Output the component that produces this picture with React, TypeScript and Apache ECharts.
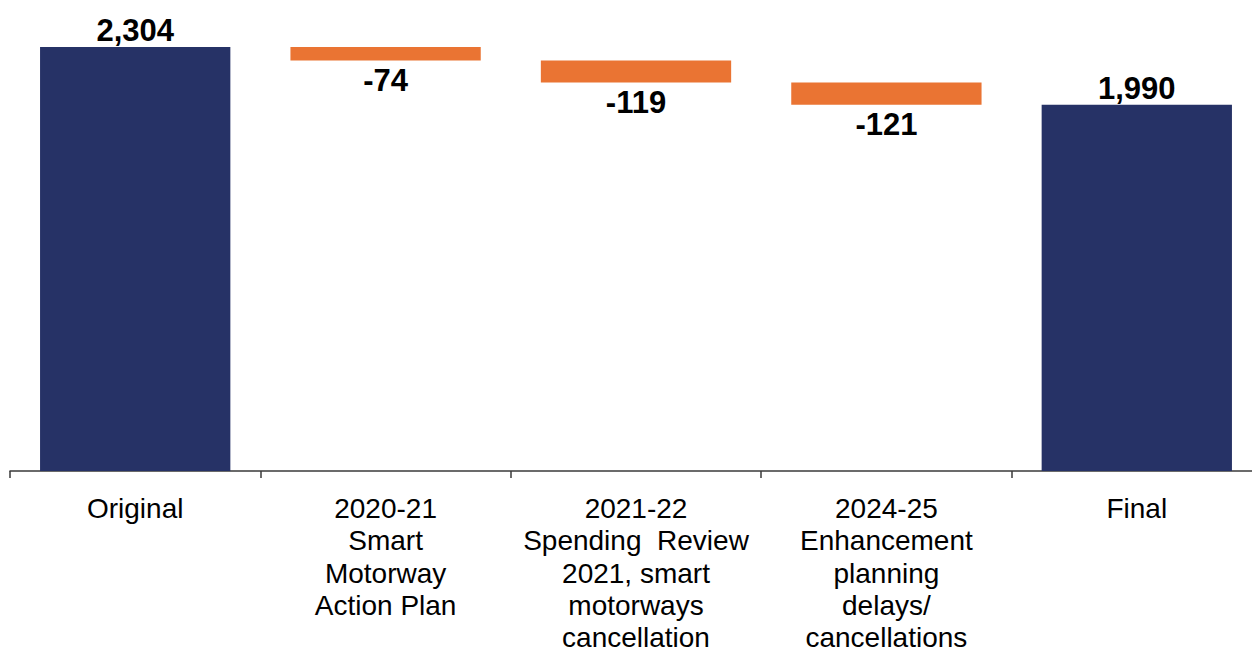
import React, { useEffect, useRef } from "react";
import * as echarts from "echarts";

const categories = [
  "Original",
  "2020-21\nSmart\nMotorway\nAction Plan",
  "2021-22\nSpending  Review\n2021, smart\nmotorways\ncancellation",
  "2024-25\nEnhancement\nplanning\ndelays/\ncancellations",
  "Final",
];
const totals: (number | string)[] = [2304, "-", "-", "-", 1990];
const decreases: (number | string)[] = ["-", 74, 119, 121, "-"];
const baseValues: (number | string)[] = [0, 2230, 2111, 1990, 0];

export default function App() {
  const ref = useRef<HTMLDivElement>(null);
  useEffect(() => {
    if (!ref.current) return;
    const chart = echarts.init(ref.current, null, { renderer: "svg" });
    const font = "'Liberation Sans', Arial, sans-serif";
    chart.setOption({
      animation: false,
      grid: { left: 10, right: 0, top: 47, bottom: 182, containLabel: false },
      xAxis: {
        type: "category",
        data: categories,
        axisLine: { show: true, lineStyle: { color: "#3a3a3a", width: 1.5 } },
        axisTick: { show: true, length: 7, lineStyle: { color: "#3a3a3a", width: 1.5 } },
        axisLabel: {
          interval: 0,
          margin: 21,
          color: "#000",
          fontFamily: font,
          fontSize: 28,
          lineHeight: 32.4,
          align: "center",
        },
      },
      yAxis: {
        type: "value",
        min: 0,
        max: 2304,
        show: false,
        splitLine: { show: false },
      },
      series: [
        {
          type: "bar",
          stack: "w",
          data: baseValues,
          barWidth: "76%",
          itemStyle: { color: "transparent" },
          silent: true,
        },
        {
          type: "bar",
          stack: "w",
          data: totals,
          barWidth: "76%",
          itemStyle: { color: "#263266" },
          label: {
            show: true,
            position: "top",
            distance: 1,
            color: "#000",
            fontWeight: "bold",
            fontFamily: font,
            fontSize: 31,
            formatter: (p: any) => Number(p.value).toLocaleString("en-GB"),
          },
        },
        {
          type: "bar",
          stack: "w",
          data: decreases,
          barWidth: "76%",
          itemStyle: { color: "#EA7433" },
          label: {
            show: true,
            position: "bottom",
            distance: 4,
            color: "#000",
            fontWeight: "bold",
            fontFamily: font,
            fontSize: 31,
            formatter: (p: any) => "-" + p.value,
          },
        },
      ],
    });
    return () => chart.dispose();
  }, []);
  return (
    <div
      style={{
        position: "fixed",
        left: 0,
        top: 0,
        width: 1252,
        height: 654,
        overflow: "hidden",
        background: "#fff",
      }}
    >
      <div ref={ref} style={{ width: 1262, height: 654 }} />
    </div>
  );
}
